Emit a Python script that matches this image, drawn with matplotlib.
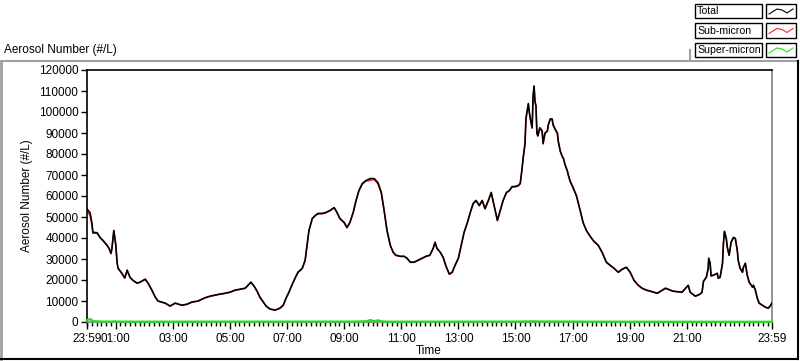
import numpy as np
import matplotlib
matplotlib.use("Agg")
import matplotlib.pyplot as plt
from matplotlib.lines import Line2D
from matplotlib.patches import Rectangle

plt.rcParams['font.family'] = ['Liberation Sans', 'DejaVu Sans']
plt.rcParams['font.size'] = 8.5

# minutes after 23:59 (start of record)
t_min = [0, 7, 11, 13, 22, 28, 34, 43, 47, 51,
         53, 57, 61, 64, 66, 74, 80, 85, 91, 97,
         106, 112, 123, 129, 137, 144, 150, 165, 175, 186,
         200, 211, 221, 234, 247, 259, 270, 280, 291, 301,
         312, 322, 333, 339, 345, 352, 358, 364, 371, 377,
         385, 396, 406, 413, 419, 425, 431, 438, 444, 453,
         459, 463, 467, 474, 480, 486, 495, 503, 511, 520,
         526, 532, 541, 547, 553, 560, 566, 572, 579, 587,
         596, 604, 612, 619, 625, 631, 638, 644, 650, 659,
         667, 673, 680, 688, 696, 705, 713, 721, 728, 732,
         736, 743, 749, 755, 762, 768, 774, 781, 787, 793,
         800, 806, 812, 818, 825, 831, 837, 844, 850, 856,
         863, 869, 875, 882, 888, 894, 900, 907, 911, 915,
         917, 921, 923, 928, 930, 932, 936, 938, 940, 942,
         944, 946, 948, 952, 957, 959, 963, 968, 970, 974,
         978, 980, 984, 989, 991, 995, 999, 1002, 1005, 1010,
         1012, 1016, 1022, 1029, 1037, 1043, 1050, 1058, 1066, 1075,
         1083, 1092, 1100, 1108, 1117, 1125, 1134, 1142, 1150, 1159,
         1167, 1176, 1184, 1199, 1216, 1232, 1251, 1264, 1268, 1279,
         1289, 1293, 1296, 1302, 1306, 1307, 1310, 1312, 1317, 1325,
         1327, 1331, 1336, 1338, 1340, 1344, 1346, 1350, 1354, 1359,
         1363, 1367, 1369, 1373, 1378, 1380, 1384, 1388, 1392, 1399,
         1401, 1405, 1409, 1413, 1420, 1426, 1432, 1436, 1440]

total = [54000, 52000, 47000, 42700, 42500, 40300, 38900, 36500, 35100, 32700,
         35000, 43600, 37000, 28000, 25600, 23200, 21000, 24700, 21300, 19900,
         18500, 19000, 20400, 18500, 15200, 11900, 10000, 9000, 7600, 9000,
         8000, 8500, 9500, 10000, 11400, 12300, 12800, 13300, 13700, 14200,
         15200, 15600, 16100, 17500, 19000, 17000, 14700, 11800, 9500, 7600,
         6200, 5700, 6600, 8000, 11400, 14200, 17500, 21000, 23700, 25600,
         29400, 36500, 43600, 49300, 50700, 51700, 51700, 52200, 53100, 54500,
         52200, 49300, 47400, 45000, 47400, 52200, 57900, 62600, 65900, 67400,
         68300, 68300, 66400, 61700, 53100, 43600, 36500, 33200, 31800, 31300,
         31300, 30400, 28500, 28500, 29400, 30400, 31300, 31800, 35100, 38000,
         35100, 33200, 30800, 26600, 22800, 23700, 27000, 30400, 36500, 42700,
         47400, 52200, 56400, 57900, 55500, 57900, 54000, 57900, 61700, 55500,
         48400, 53100, 57900, 61700, 62600, 64500, 64500, 65000, 66000, 73500,
         78000, 85000, 97000, 104000, 100000, 97000, 92500, 107600, 112400, 105000,
         103000, 90000, 88700, 92500, 91000, 85000, 90000, 91000, 94000, 96700,
         96700, 94000, 92000, 90000, 86000, 81500, 79000, 77800, 75000, 72000,
         70000, 67000, 64000, 60200, 53100, 47400, 43600, 40800, 38400, 36500,
         33200, 28500, 27000, 25600, 23700, 25100, 26100, 23700, 19900, 17500,
         16100, 15200, 14700, 13700, 16100, 14700, 14200, 17500, 14200, 12300,
         13300, 14200, 19400, 21300, 25600, 30400, 28000, 22000, 22300, 23200,
         20900, 21300, 28000, 37500, 43200, 39800, 35600, 31800, 38000, 40300,
         39800, 34200, 29400, 25600, 23700, 26100, 28000, 22300, 19000, 16600,
         17500, 15200, 11400, 9000, 8000, 7100, 6600, 7600, 9000]

super_micron = [900, 1400, 800, 500, 300, 250, 200, 200, 250, 200,
                200, 300, 250, 200, 200, 150, 150, 200, 150, 150,
                150, 150, 150, 150, 100, 100, 100, 100, 100, 100,
                100, 100, 100, 100, 100, 100, 100, 100, 100, 100,
                100, 100, 100, 150, 150, 150, 100, 100, 100, 100,
                100, 100, 100, 100, 100, 100, 100, 150, 150, 150,
                150, 150, 200, 200, 200, 200, 200, 200, 200, 200,
                200, 200, 200, 200, 200, 200, 250, 250, 300, 350,
                900, 400, 800, 300, 200, 150, 150, 150, 150, 150,
                150, 150, 150, 150, 150, 150, 150, 150, 150, 150,
                150, 150, 150, 150, 100, 100, 150, 150, 150, 150,
                150, 200, 200, 200, 200, 200, 200, 200, 200, 200,
                200, 200, 200, 200, 200, 200, 200, 200, 200, 250,
                250, 250, 300, 300, 300, 300, 250, 300, 350, 300,
                300, 250, 250, 300, 250, 250, 250, 250, 300, 300,
                300, 300, 250, 250, 250, 250, 250, 200, 200, 200,
                200, 200, 200, 200, 200, 150, 150, 150, 150, 150,
                150, 150, 150, 100, 100, 100, 100, 100, 100, 100,
                100, 100, 100, 100, 100, 100, 100, 100, 100, 100,
                100, 100, 100, 100, 100, 150, 100, 100, 100, 100,
                100, 100, 100, 150, 200, 150, 150, 150, 150, 150,
                150, 150, 100, 100, 100, 100, 100, 100, 100, 100,
                100, 100, 100, 100, 100, 100, 100, 100, 100]

tick_pos = [0, 61, 181, 301, 421, 541, 661, 781, 901, 1021, 1141, 1261, 1440]
tick_labels = ["23:59", "01:00", "03:00", "05:00", "07:00", "09:00", "11:00",
               "13:00", "15:00", "17:00", "19:00", "21:00", "23:59"]

t = np.array(t_min)
tot = np.array(total)
sup = np.array(super_micron)
sub = tot - sup

W, H = 800, 361
fig = plt.figure(figsize=(8, 3.61), dpi=100)


def fx(x):
    return x / W


def fy(y):
    return 1 - y / H


ax = fig.add_axes([fx(86.7), fy(322), fx(772) - fx(86.7), fy(70) - fy(322)])
ax.plot(t, sub, color='#ff2020', lw=1.0, zorder=2)
ax.plot(t, tot, color='black', lw=1.2, zorder=3)
ax.plot(t, sup, color='#22dd22', lw=1.6, zorder=4, clip_on=False)

ax.set_xlim(0, 1440)
ax.set_ylim(0, 120000)
ax.set_yticks(np.arange(0, 120001, 10000))
ax.set_xticks(tick_pos)
ax.set_xticklabels(tick_labels)
ax.set_xticks(np.arange(1, 1440, 10), minor=True)
ax.tick_params(axis='y', direction='out', length=4, width=1, pad=2)
ax.tick_params(axis='x', which='major', direction='out', length=5, width=1, pad=3)
ax.tick_params(axis='x', which='minor', direction='out', length=3, width=1)

for s in ['top', 'left']:
    ax.spines[s].set_color('black')
for s in ['right', 'bottom']:
    ax.spines[s].set_color('#808080')
for s in ax.spines.values():
    s.set_linewidth(1.2)

ax.set_ylabel("Aerosol Number (#/L)")
ax.yaxis.set_label_coords((33 - 86.7) / 685.3, 0.5)
fig.text(fx(429), fy(351), "Time", ha='center', va='center')
fig.text(fx(4), fy(50), "Aerosol Number (#/L)", ha='left', va='center')

# panel frame
fig.add_artist(Line2D([0, fx(798)], [fy(61), fy(61)], transform=fig.transFigure, color='#a0a0a0', lw=1.5))
fig.add_artist(Line2D([fx(1), fx(1)], [fy(61), fy(359)], transform=fig.transFigure, color='#a0a0a0', lw=2))
fig.add_artist(Line2D([0, fx(798)], [fy(359), fy(359)], transform=fig.transFigure, color='black', lw=1.5))
fig.add_artist(Line2D([fx(798), fx(798)], [fy(61), fy(359)], transform=fig.transFigure, color='black', lw=1.5))
fig.add_artist(Line2D([fx(690), fx(690)], [fy(50), fy(61)], transform=fig.transFigure, color='#a0a0a0', lw=1.5))

# legend
names = ["Total", "Sub-micron", "Super-micron"]
colors = ['black', '#ff2020', '#22dd22']
rows = [(4, 18), (23, 38), (43, 57)]
for name, c, (y0, y1) in zip(names, colors, rows):
    fig.add_artist(Rectangle((fx(695), fy(y1)), fx(762) - fx(695), fy(y0) - fy(y1),
                             transform=fig.transFigure, facecolor='white', edgecolor='black', lw=1))
    fig.add_artist(Rectangle((fx(766), fy(y1)), fx(796) - fx(766), fy(y0) - fy(y1),
                             transform=fig.transFigure, facecolor='white', edgecolor='black', lw=1))
    fig.text(fx(697), fy((y0 + y1) / 2), name, ha='left', va='center', fontsize=7.6)
    ym = (y0 + y1) / 2
    zx = [769, 777, 782, 787, 793]
    zy = [ym + 3, ym - 2, ym - 1, ym + 2, ym - 2]
    fig.add_artist(Line2D([fx(v) for v in zx], [fy(v) for v in zy], transform=fig.transFigure, color=c, lw=0.8))

fig.savefig("out.png", dpi=100)
